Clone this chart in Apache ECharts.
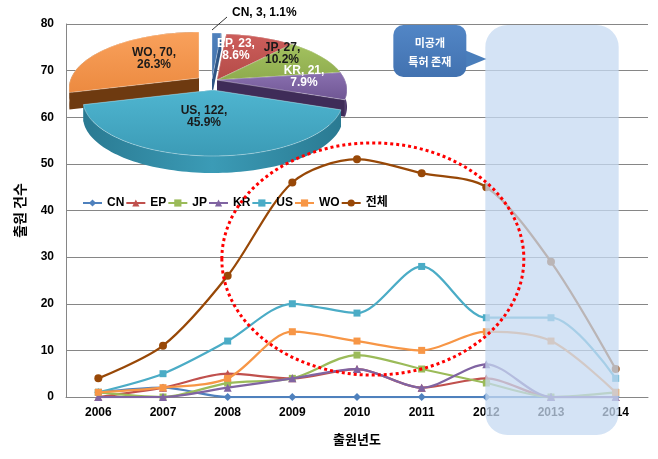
<!DOCTYPE html>
<html><head><meta charset="utf-8">
<script src="https://cdn.jsdelivr.net/npm/echarts@6/dist/echarts.min.js"></script>
<style>html,body{margin:0;padding:0;background:#fff}#c{width:658px;height:459px}</style>
</head><body><div id="c"></div>
<script>
// ---------- data ----------
const years = ['2006','2007','2008','2009','2010','2011','2012','2013','2014'];
const cnVals = [1, 2, 0, 0, 0, 0, 0, 0, 0];
const epVals = [0, 2, 5, 4, 6, 2, 4, 0, 0];
const jpVals = [1, 0, 3, 4, 9, 6, 3, 0, 1];
const krVals = [0, 0, 2, 4, 6, 2, 7, 0, 0];
const usVals = [1, 5, 12, 20, 18, 28, 17, 17, 4];
const woVals = [1, 2, 4, 14, 12, 10, 14, 12, 1];
const totalVals = [4, 11, 26, 46, 51, 48, 45, 29, 6];
const seriesNames = ['CN','EP','JP','KR','US','WO','전체'];
const pieNames = ['CN','EP','JP','KR','US','WO'];
const pieValues = [3, 23, 27, 21, 122, 70];
const yMin = 0, yMax = 80, yStep = 10;
const calloutText = ['미공개', '특허 존재'];
const xAxisTitle = '출원년도';
const yAxisTitle = '출원 건수';

// ---------- styles ----------
const FONT = 'Arial, "Liberation Sans", "Noto Sans CJK KR", sans-serif';
const KFONT = '"Noto Sans CJK KR", Arial, sans-serif';
const colors = {CN:'#4f81bd', EP:'#c0504d', JP:'#9bbb59', KR:'#8064a2', US:'#4bacc6', WO:'#f79646', '전체':'#984807'};
const symbols = {CN:'diamond', EP:'triangle', JP:'rect', KR:'triangle', US:'rect', WO:'rect', '전체':'circle'};
const symbolSizes = {CN:8, EP:8, JP:7, KR:8, US:7, WO:7, '전체':8};
const lineData = [cnVals, epVals, jpVals, krVals, usVals, woVals, totalVals];

// 3D pie look (vertex at cx,cy; ellipse centre shifted down by eShift)
const PIE = {cx:215, cy:80, eShift:10, rx:130, ry:56, depth:17};
const pieExplode = [[-3,-1],[2,0],[2,0],[2,0],[-2,10],[-16,-2]];
const pieTop = ['#4f81bd','#cd5e5b','#a3c25f','#8a70b0','#4fb5d0','#f9a15c'];
const pieTopDark = ['#3f6ea6','#b44b48','#8eab4e','#6f5693','#3b9bb6','#ec8a40'];
const pieSide = ['#2e5585','#7e2e2c','#60792f','#3f2c58','#2a7a92','#6e3a10'];
const pieLabelAnchor = [[17,-67],[21,-30],[67,-26],[89,-3],[-11,37],[-61,-21]];
const pieLabelColor = ['#000','#fff','#1a1a1a','#fff','#1a1a1a','#1a1a1a'];
const pieDrawOrder = [0,1,2,5,3,4];

const total = pieValues.reduce((a,b)=>a+b,0);

function renderPie(params, api) {
  const children = [];
  let acc = 0;
  const slices = pieValues.map((v,i)=>{
    const a0 = acc/total*Math.PI*2; acc += v; const a1 = acc/total*Math.PI*2;
    return {i, a0, a1, v};
  });
  const pt = (s, a, d) => {
    const o = pieExplode[s.i];
    return [PIE.cx + o[0] + PIE.rx*Math.sin(a), PIE.cy + PIE.eShift + o[1] - PIE.ry*Math.cos(a) + d];
  };
  const vtx = (s, d) => { const o = pieExplode[s.i]; return [PIE.cx+o[0], PIE.cy+o[1]+d]; };
  pieDrawOrder.forEach(idx => {
    const s = slices[idx];
    const n = Math.max(2, Math.ceil((s.a1-s.a0)/(Math.PI/90)));
    const arc = (d) => { const p=[]; for (let k=0;k<=n;k++){ p.push(pt(s, s.a0+(s.a1-s.a0)*k/n, d)); } return p; };
    const D = PIE.depth;
    [s.a0, s.a1].forEach(a => {
      children.push({type:'polygon', shape:{points:[vtx(s,0), pt(s,a,0), pt(s,a,D), vtx(s,D)]},
        style:{fill:pieSide[s.i]}});
    });
    const top = arc(0), bot = arc(D).reverse();
    children.push({type:'polygon', shape:{points: top.concat(bot)},
      style:{fill:new echarts.graphic.LinearGradient(0,0,1,0,[{offset:0,color:pieSide[s.i]},{offset:0.5,color:pieTopDark[s.i]},{offset:1,color:pieSide[s.i]}])}});
    children.push({type:'polygon', shape:{points:[vtx(s,0)].concat(top)},
      style:{fill:new echarts.graphic.LinearGradient(0,0,0,1,[{offset:0,color:pieTop[s.i]},{offset:1,color:pieTopDark[s.i]}]),
             stroke:'rgba(255,255,255,0.35)', lineWidth:0.5}});
  });
  slices.forEach(s => {
    const pct = (s.v/total*100).toFixed(1) + '%';
    const an = pieLabelAnchor[s.i];
    if (s.i === 0) {
      const lx = PIE.cx + an[0], ly = PIE.cy + an[1];
      children.push({type:'polyline', shape:{points:[[PIE.cx-3, PIE.cy-50],[lx-5, ly+4]]}, style:{stroke:'#333', lineWidth:1}});
      children.push({type:'text', style:{x:lx, y:ly, text: pieNames[s.i]+', '+s.v+', '+pct, fill:pieLabelColor[s.i],
        font:'bold 12px '+FONT, textAlign:'left', textVerticalAlign:'middle'}});
    } else {
      children.push({type:'text', style:{x:PIE.cx+an[0], y:PIE.cy+an[1], text: pieNames[s.i]+', '+s.v+',\n'+pct,
        fill:pieLabelColor[s.i], font:'bold 12px '+FONT, textAlign:'center', textVerticalAlign:'middle', lineHeight:12}});
    }
  });
  return {type:'group', children};
}

const chart = echarts.init(document.getElementById('c'), null, {renderer:'canvas'});
const lineSeries = seriesNames.map((n,i)=>({
  name:n, type:'line', data:lineData[i], smooth:0.3, symbol:symbols[n], symbolSize:symbolSizes[n],
  lineStyle:{width:2.25, color:colors[n]}, itemStyle:{color:colors[n]}, z:2+i*0.1, animation:false
}));

chart.setOption({
  animation:false,
  backgroundColor:'#fff',
  grid:{left:66, right:10, top:24, bottom:62, containLabel:false},
  legend:{data:seriesNames, left:82, top:197, padding:0, itemWidth:19, itemHeight:9, itemGap:1,
    textStyle:{fontFamily:FONT, fontWeight:'bold', fontSize:12, color:'#000'}},
  xAxis:{type:'category', data:years, boundaryGap:true,
    axisLine:{lineStyle:{color:'#868686', width:1}}, axisTick:{show:false},
    axisLabel:{fontFamily:FONT, fontWeight:'bold', fontSize:12, color:'#000', margin:10},
    name:xAxisTitle, nameLocation:'middle', nameGap:36,
    nameTextStyle:{fontFamily:KFONT, fontWeight:'bold', fontSize:13, color:'#000'}},
  yAxis:{type:'value', min:yMin, max:yMax, interval:yStep,
    axisLine:{show:true, lineStyle:{color:'#868686'}}, axisTick:{show:false},
    splitLine:{lineStyle:{color:'#868686', width:1}},
    axisLabel:{fontFamily:FONT, fontWeight:'bold', fontSize:12, color:'#000', margin:12},
    name:yAxisTitle, nameLocation:'middle', nameGap:39, nameRotate:90,
    nameTextStyle:{fontFamily:KFONT, fontWeight:'bold', fontSize:14, color:'#000'}},
  series: lineSeries.concat([{type:'custom', name:'pie3d', coordinateSystem:'none', data:[[0]], renderItem:renderPie, z:5, silent:true}])
});

// annotations positioned from the axes
const P = (i, v) => chart.convertToPixel({xAxisIndex:0, yAxisIndex:0}, [i, v]);
const p0 = P(0, 0), p1 = P(1, 0);
const step = p1[0] - p0[0];
const yTopPx = P(0, yMax)[1];
const yZeroPx = p0[1];
const unit = (P(0,0)[1] - P(0,10)[1]) / 10;
const x2012 = P(6, 0)[0], x2014 = P(8, 0)[0];
const tip = P(6, 72.5);
const bodyRight = tip[0] - 20, bodyLeft = tip[0] - 93;
const ellCx = p0[0] + step*4.245, ellCy = yZeroPx - unit*29.6;

chart.setOption({graphic:[
  {type:'rect', z:100, shape:{x:x2012-1, y:yTopPx+1, width:(x2014-x2012)+4, height:(yZeroPx-yTopPx)+37, r:22},
    style:{fill:'rgba(197,217,241,0.75)'}},
  {type:'ellipse', z:110, shape:{cx:ellCx, cy:ellCy, rx:step*2.335, ry:unit*24.9},
    style:{fill:null, stroke:'#ff0000', lineWidth:3, lineDash:[3,3]}},
  {type:'polygon', z:120, shape:{points:[[bodyRight-2, tip[1]-9],[tip[0], tip[1]],[bodyRight-2, tip[1]+9]]},
    style:{fill:'#4a7ebb'}},
  {type:'rect', z:121, shape:{x:bodyLeft, y:yTopPx+1, width:bodyRight-bodyLeft, height:52, r:10},
    style:{fill:new echarts.graphic.LinearGradient(0,0,0,1,[{offset:0,color:'#5286c6'},{offset:1,color:'#4272b0'}])}},
  {type:'text', z:122, style:{x:(bodyLeft+bodyRight)/2, y:yTopPx+19, text:calloutText[0], fill:'#fff',
    font:'bold 11px '+KFONT, textAlign:'center', textVerticalAlign:'middle'}},
  {type:'text', z:122, style:{x:(bodyLeft+bodyRight)/2, y:yTopPx+38, text:calloutText[1], fill:'#fff',
    font:'bold 11px '+KFONT, textAlign:'center', textVerticalAlign:'middle'}}
]});
</script></body></html>
